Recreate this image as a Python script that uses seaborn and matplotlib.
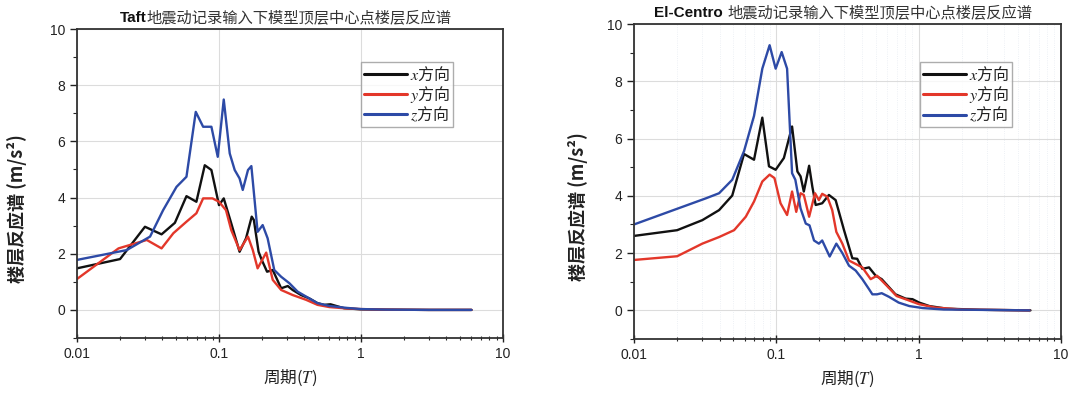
import numpy as np
import pandas as pd
import matplotlib
matplotlib.use("Agg")
import matplotlib.pyplot as plt
import seaborn as sns
from matplotlib.ticker import FixedLocator, FuncFormatter, LogLocator, MultipleLocator
from matplotlib.offsetbox import TextArea, HPacker, AnnotationBbox

# ---------------- data ----------------
taft_x_T = [0.01, 0.0201, 0.0301, 0.0394, 0.0489, 0.059, 0.0693, 0.0794, 0.0884, 0.1, 0.108, 0.122,
            0.1396, 0.155, 0.170, 0.176, 0.19, 0.2, 0.218, 0.239, 0.274, 0.305, 0.33, 0.378, 0.432,
            0.494, 0.55, 0.61, 0.76, 1.0, 1.5, 3.0, 6.0]
taft_x_v = [1.48, 1.81, 2.96, 2.69, 3.10, 4.05, 3.85, 5.15, 4.98, 3.73, 3.97, 3.08,
            2.07, 2.55, 3.32, 3.2, 2.07, 1.78, 1.36, 1.42, 0.77, 0.85, 0.71, 0.53, 0.41,
            0.24, 0.18, 0.2, 0.06, 0.02, 0.01, 0.0, 0.0]

taft_y_T = [0.01, 0.0196, 0.031, 0.0394, 0.0477, 0.059, 0.0693, 0.0773, 0.09, 0.1, 0.112, 0.122,
            0.1396, 0.16, 0.173, 0.187, 0.215, 0.239, 0.274, 0.33, 0.41, 0.494, 0.6, 0.8, 1.0,
            1.5, 3.0, 6.0]
taft_y_v = [1.10, 2.19, 2.49, 2.19, 2.73, 3.14, 3.44, 3.97, 3.97, 3.85, 3.55, 2.84,
            2.13, 2.61, 2.13, 1.48, 2.04, 1.07, 0.71, 0.53, 0.36, 0.18, 0.1, 0.05, 0.03,
            0.01, 0.0, 0.0]

taft_z_T = [0.01, 0.0224, 0.0327, 0.0404, 0.0502, 0.059, 0.0686, 0.0773, 0.0884, 0.098, 0.108,
            0.119, 0.129, 0.1396, 0.147, 0.16, 0.169, 0.187, 0.203, 0.22, 0.245, 0.274, 0.313,
            0.358, 0.432, 0.494, 0.6, 0.8, 1.0, 1.5, 3.0, 6.0]
taft_z_v = [1.78, 2.13, 2.61, 3.55, 4.38, 4.74, 7.05, 6.52, 6.52, 5.45, 7.49,
            5.57, 4.98, 4.68, 4.27, 4.98, 5.12, 2.78, 3.02, 2.55, 1.42, 1.18, 0.95,
            0.65, 0.41, 0.24, 0.14, 0.07, 0.03, 0.01, 0.0, 0.0]

elc_x_T = [0.01, 0.0201, 0.0302, 0.0396, 0.049, 0.0593, 0.0697, 0.0797, 0.0888, 0.0989, 0.113,
           0.129, 0.1406, 0.148, 0.156, 0.170, 0.179, 0.189, 0.210, 0.234, 0.261, 0.299, 0.342,
           0.37, 0.402, 0.448, 0.499, 0.55, 0.687, 0.81, 0.905, 1.01, 1.19, 1.57, 2.7, 6.1]
elc_x_v = [2.60, 2.80, 3.15, 3.50, 4.01, 5.46, 5.26, 6.73, 5.03, 4.91, 5.32,
           6.42, 4.85, 4.68, 4.15, 5.05, 4.32, 3.68, 3.74, 4.03, 3.85, 2.80, 1.82,
           1.80, 1.45, 1.50, 1.21, 1.09, 0.56, 0.41, 0.39, 0.27, 0.15, 0.06, 0.02, 0.0]

elc_y_T = [0.01, 0.0201, 0.0302, 0.0396, 0.0505, 0.061, 0.0697, 0.0797, 0.0897, 0.097, 0.107,
           0.119, 0.129, 0.138, 0.148, 0.156, 0.170, 0.187, 0.199, 0.210, 0.228, 0.247, 0.264,
           0.291, 0.324, 0.361, 0.402, 0.46, 0.51, 0.6, 0.7, 0.85, 1.0, 1.3, 2.0, 6.0]
elc_y_v = [1.76, 1.89, 2.33, 2.56, 2.80, 3.27, 3.80, 4.50, 4.74, 4.62, 3.74,
           3.33, 4.15, 3.44, 4.09, 4.03, 3.27, 4.09, 3.85, 4.07, 3.97, 3.50, 2.74,
           2.33, 1.74, 1.62, 1.50, 1.09, 1.21, 0.85, 0.5, 0.35, 0.22, 0.1, 0.03, 0.0]

elc_z_T = [0.01, 0.0319, 0.0396, 0.049, 0.0593, 0.0697, 0.0797, 0.0897, 0.0989, 0.109, 0.119,
           0.129, 0.136, 0.148, 0.161, 0.171, 0.184, 0.199, 0.21, 0.237, 0.264, 0.291, 0.324,
           0.361, 0.402, 0.448, 0.473, 0.51, 0.55, 0.615, 0.725, 0.86, 1.07, 1.5, 6.0]
elc_z_v = [3.00, 3.91, 4.09, 4.56, 5.56, 6.79, 8.44, 9.26, 8.44, 9.02, 8.44,
           4.79, 4.56, 3.56, 3.03, 2.97, 2.44, 2.33, 2.44, 1.88, 2.33, 2.00, 1.56,
           1.39, 1.09, 0.74, 0.56, 0.56, 0.6, 0.48, 0.27, 0.15, 0.08, 0.03, 0.0]

series_labels = ["$x$方向", "$y$方向", "$z$方向"]
series_colors = ["#111111", "#e3372a", "#2d4aa6"]
titles_en = ["Taft", "El-Centro "]
title_cn = "地震动记录输入下模型顶层中心点楼层反应谱"
ylabel_text = "楼层反应谱 (m/s²)"
xlabel_text = "周期($T$)"
xtick_vals = [0.01, 0.1, 1, 10]
xtick_labels = ["0.01", "0.1", "1", "10"]
ytick_vals = [0, 2, 4, 6, 8, 10]

# ---------------- style ----------------
sns.set_theme(style="white")
CJK = ["Noto Sans CJK SC", "DejaVu Sans"]
plt.rcParams["font.family"] = ["Liberation Sans", "Noto Sans CJK SC", "DejaVu Sans"]
plt.rcParams["mathtext.fontset"] = "stix"
plt.rcParams["axes.unicode_minus"] = False

fig = plt.figure(figsize=(10.72, 3.94), dpi=100)
ax1 = fig.add_axes([77/1072, 1-338/394, 426/1072, 309/394])
ax2 = fig.add_axes([634/1072, 1-339/394, 427/1072, 315/394])

panels = [
    (ax1, [(taft_x_T, taft_x_v), (taft_y_T, taft_y_v), (taft_z_T, taft_z_v)], titles_en[0],
     (0.667, 0.893), False, -0.117),
    (ax2, [(elc_x_T, elc_x_v), (elc_y_T, elc_y_v), (elc_z_T, elc_z_v)], titles_en[1],
     (0.67, 0.878), True, -0.108),
]

for ax, series, ten, legpos, minor_grid, ylab_x in panels:
    for (T, v), lab, col in zip(series, series_labels, series_colors):
        df = pd.DataFrame({"T": T, "v": v})
        sns.lineplot(data=df, x="T", y="v", ax=ax, color=col, lw=1.7, label=lab,
                     sort=False, estimator=None)
    ax.set_xscale("log")
    ax.set_xlim(0.01, 10)
    ax.set_ylim(-1, 10)
    ax.xaxis.set_major_locator(FixedLocator(xtick_vals))
    ax.xaxis.set_major_formatter(FuncFormatter(lambda val, pos: xtick_labels[xtick_vals.index(val)] if val in xtick_vals else ""))
    ax.xaxis.set_minor_locator(LogLocator(base=10, subs=np.arange(2, 10)))
    ax.yaxis.set_major_locator(FixedLocator(ytick_vals))
    ax.yaxis.set_minor_locator(MultipleLocator(1))
    ax.tick_params(axis="x", which="major", direction="inout", length=6, width=1.0,
                   labelsize=10, colors="#222222", bottom=True)
    ax.tick_params(axis="x", which="minor", direction="inout", length=3.5, width=0.8, bottom=True)
    ax.tick_params(axis="y", which="major", direction="out", length=5, width=1.0,
                   labelsize=10, colors="#222222", left=True)
    ax.tick_params(axis="y", which="minor", direction="out", length=3, width=0.8, left=True)
    for s in ax.spines.values():
        s.set_color("#333333")
        s.set_linewidth(1.3)
    ax.grid(True, which="major", color="#dcdcdc", lw=0.8)
    if minor_grid:
        ax.grid(True, which="minor", axis="x", color="#e8ecf2", lw=0.6, ls=":")
    ax.set_axisbelow(True)

    ax.set_xlabel(xlabel_text, fontsize=12, family=CJK, color="#222222")
    ax.xaxis.set_label_coords(0.5, -0.095)
    ax.set_ylabel(ylabel_text, fontsize=13, fontweight="bold", family=CJK, color="#222222")
    ax.yaxis.set_label_coords(ylab_x, 0.42)

    leg = ax.legend(loc="upper left", bbox_to_anchor=legpos, frameon=True, fancybox=False,
                    fontsize=11.5, handlelength=2.7, handletextpad=0.15, labelspacing=0.0,
                    borderpad=0.2, borderaxespad=0)
    leg.get_frame().set_edgecolor("#999999")
    leg.get_frame().set_linewidth(1.0)
    for t in leg.get_texts():
        t.set_family(CJK)
        t.set_color("#222222")
    for h in leg.get_lines():
        h.set_linewidth(2.2)

    ta1 = TextArea(ten, textprops=dict(fontweight="bold", fontsize=11, family=["Liberation Sans"], color="#111111"))
    ta2 = TextArea(title_cn, textprops=dict(fontsize=11, family=CJK, color="#333333"))
    box = HPacker(children=[ta1, ta2], align="baseline", pad=0, sep=0)
    ab = AnnotationBbox(box, (0.5, 1.0), xycoords="axes fraction", xybox=(-3, 2),
                        boxcoords="offset points", box_alignment=(0.5, 0), frameon=False, pad=0)
    ax.add_artist(ab)

fig.savefig("out.png", dpi=100)
